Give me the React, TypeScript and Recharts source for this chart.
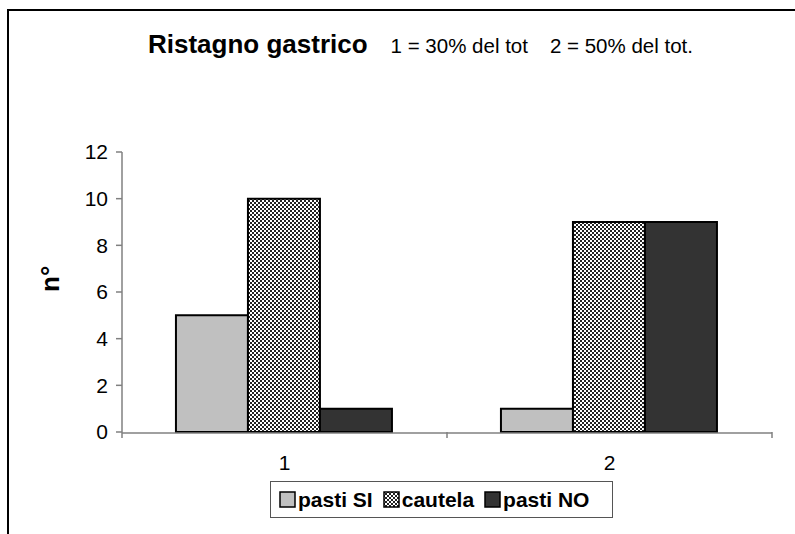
import React from 'react';
import { BarChart, Bar, XAxis, YAxis } from 'recharts';

const categories = ['1', '2'];
const pastiSi = [5, 1];
const cautela = [10, 9];
const pastiNo = [1, 9];
const yTicks = [0, 2, 4, 6, 8, 10, 12];
const edgeTicks = [0, 1, 2];

const data = categories.map((c, i) => ({
  name: c,
  idx: i + 0.5,
  pastiSi: pastiSi[i],
  cautela: cautela[i],
  pastiNo: pastiNo[i],
}));

const FONT = '"Liberation Sans", Arial, sans-serif';

const legendItems = [
  { label: 'pasti SI', fill: '#c0c0c0' },
  { label: 'cautela', fill: 'url(#lg-checker)' },
  { label: 'pasti NO', fill: '#333333' },
];

const Checker = ({ id }: { id: string }) => (
  <pattern id={id} width={4} height={4} patternUnits="userSpaceOnUse">
    <rect width={4} height={4} fill="#fff" />
    <rect width={2} height={2} fill="#222" />
    <rect x={2} y={2} width={2} height={2} fill="#222" />
  </pattern>
);

const LegendBox = () => (
  <div
    style={{
      position: 'absolute',
      left: 270,
      top: 481,
      width: 343,
      display: 'flex',
      alignItems: 'center',
      border: '1px solid #555',
      height: 37,
      boxSizing: 'border-box',
      padding: '0 0 0 8px',
      fontFamily: FONT,
      fontWeight: 'bold',
      fontSize: 21,
      background: '#fff',
      whiteSpace: 'nowrap',
    }}
  >
    <svg width={0} height={0} style={{ position: 'absolute' }}>
      <defs>
        <Checker id="lg-checker" />
      </defs>
    </svg>
    {legendItems.map((it) => (
      <div key={it.label} style={{ display: 'flex', alignItems: 'center', marginRight: 10 }}>
        <svg width={17} height={17} style={{ marginRight: 2 }}>
          <rect x={1} y={1} width={15} height={15} fill={it.fill} stroke="#000" strokeWidth={1.5} />
        </svg>
        <span>{it.label}</span>
      </div>
    ))}
  </div>
);

export default function App() {
  return (
    <div style={{ position: 'absolute', left: 0, top: 0, width: 795, height: 534, background: '#fff' }}>
      <div
        style={{
          position: 'absolute',
          left: 7,
          top: 9,
          width: 790,
          height: 530,
          borderLeft: '2px solid #000',
          borderTop: '2px solid #000',
        }}
      />
      <div
        style={{
          position: 'absolute',
          left: 148,
          top: 29,
          fontFamily: FONT,
          whiteSpace: 'nowrap',
        }}
      >
        <span style={{ fontWeight: 'bold', fontSize: 26 }}>Ristagno gastrico</span>
        <span style={{ fontSize: 20.5, marginLeft: 23 }}>1 = 30% del tot</span>
        <span style={{ fontSize: 20.5, marginLeft: 22 }}>2 = 50% del tot.</span>
      </div>
      <BarChart
        width={795}
        height={534}
        data={data}
        margin={{ top: 152, right: 23, bottom: 72, left: 72 }}
        barCategoryGap="16.6%"
        barGap={0}
        style={{ position: 'absolute', left: 0, top: 0, fontFamily: FONT }}
      >
        <defs>
          <Checker id="checker" />
        </defs>
        <XAxis
          xAxisId={0}
          type="number"
          dataKey="idx"
          domain={[0, 2]}
          ticks={edgeTicks}
          axisLine={false}
          tickLine={{ stroke: '#808080', strokeWidth: 1.5 }}
          tickSize={6}
          tick={() => <g />}
          height={1}
        />
        <XAxis
          dataKey="name"
          xAxisId={1}
          axisLine={{ stroke: '#808080', strokeWidth: 1.5 }}
          tickLine={false}
          tickSize={0}
          tickMargin={22}
          height={29}
          tick={{ fill: '#000', fontSize: 21 }}
        />
        <YAxis
          domain={[0, 12]}
          ticks={yTicks}
          width={50}
          axisLine={{ stroke: '#808080', strokeWidth: 1.5 }}
          tickLine={{ stroke: '#808080', strokeWidth: 1.5 }}
          tickSize={6}
          tickMargin={8}
          tick={{ fill: '#000', fontSize: 21 }}
          label={{
            value: 'n°',
            angle: -90,
            position: 'insideLeft',
            offset: -22,
            style: { fontSize: 26, fontWeight: 'bold', fill: '#000' },
          }}
        />
        <Bar xAxisId={1} dataKey="pastiSi" name="pasti SI" fill="#c0c0c0" stroke="#000" strokeWidth={2} isAnimationActive={false} />
        <Bar xAxisId={1} dataKey="cautela" name="cautela" fill="url(#checker)" stroke="#000" strokeWidth={2} isAnimationActive={false} />
        <Bar xAxisId={1} dataKey="pastiNo" name="pasti NO" fill="#333333" stroke="#000" strokeWidth={2} isAnimationActive={false} />
      </BarChart>
      <LegendBox />
    </div>
  );
}
